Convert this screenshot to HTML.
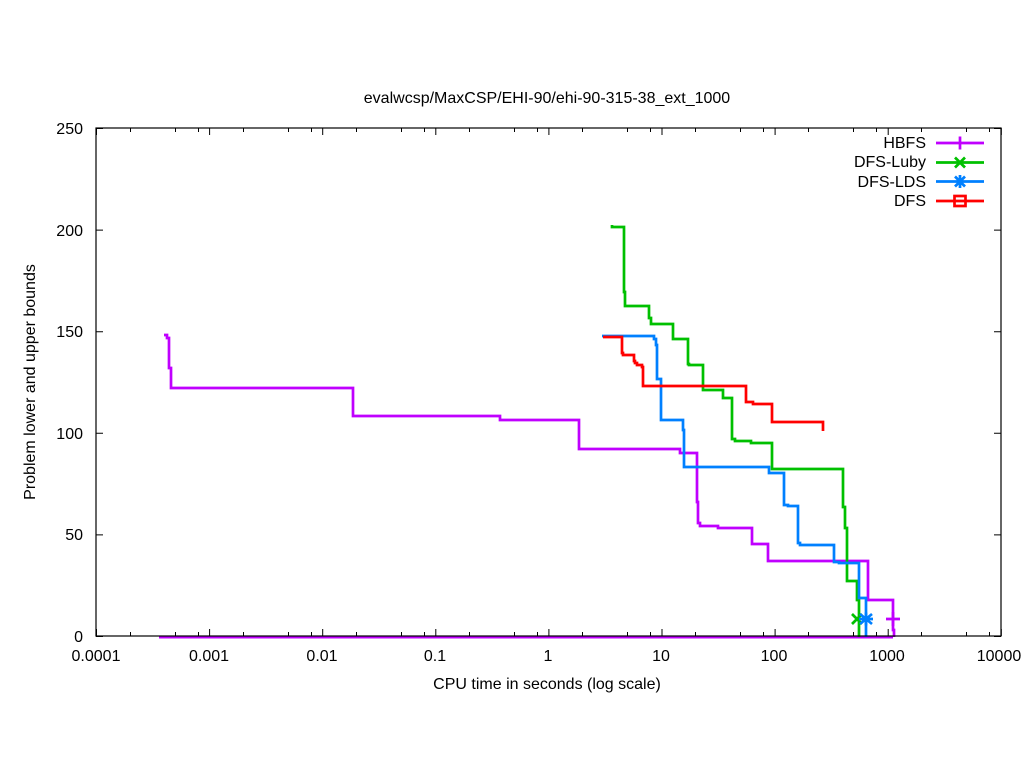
<!DOCTYPE html>
<html><head><meta charset="utf-8"><style>html,body{margin:0;padding:0;background:#fff}svg{display:block}text{font-family:"Liberation Sans",sans-serif;font-size:16px;fill:#000}</style></head><body>
<svg width="1024" height="768" viewBox="0 0 1024 768" xmlns="http://www.w3.org/2000/svg">
<rect width="1024" height="768" fill="#fff"/>
<text x="547" y="103" text-anchor="middle">evalwcsp/MaxCSP/EHI-90/ehi-90-315-38_ext_1000</text>
<g stroke="#000" stroke-width="1" fill="none">
<path d="M96,636.5H103M96,534.9H103M96,433.3H103M96,331.7H103M96,230.1H103M96,128.5H103M1001,636.5H994M1001,534.9H994M1001,433.3H994M1001,331.7H994M1001,230.1H994M1001,128.5H994"/>
<path d="M96.5,636V629M96.5,128V135M209.6,636V629M209.6,128V135M322.7,636V629M322.7,128V135M435.8,636V629M435.8,128V135M548.9,636V629M548.9,128V135M662,636V629M662,128V135M775.1,636V629M775.1,128V135M888.2,636V629M888.2,128V135M1001.3,636V629M1001.3,128V135"/>
<path d="M130.5,636V632M130.5,128V132M175.5,636V632M175.5,128V132M198.5,636V632M198.5,128V132M243.5,636V632M243.5,128V132M288.5,636V632M288.5,128V132M311.5,636V632M311.5,128V132M356.5,636V632M356.5,128V132M401.5,636V632M401.5,128V132M424.5,636V632M424.5,128V132M469.5,636V632M469.5,128V132M514.5,636V632M514.5,128V132M537.5,636V632M537.5,128V132M582.5,636V632M582.5,128V132M627.5,636V632M627.5,128V132M650.5,636V632M650.5,128V132M695.5,636V632M695.5,128V132M740.5,636V632M740.5,128V132M763.5,636V632M763.5,128V132M808.5,636V632M808.5,128V132M853.5,636V632M853.5,128V132M876.5,636V632M876.5,128V132M921.5,636V632M921.5,128V132M966.5,636V632M966.5,128V132M989.5,636V632M989.5,128V132"/>
</g>
<g text-anchor="end">
<text x="83" y="642">0</text>
<text x="83" y="540">50</text>
<text x="83" y="439">100</text>
<text x="83" y="337">150</text>
<text x="83" y="236">200</text>
<text x="83" y="134">250</text>
</g>
<g text-anchor="middle">
<text x="96" y="661">0.0001</text>
<text x="209" y="661">0.001</text>
<text x="322" y="661">0.01</text>
<text x="435" y="661">0.1</text>
<text x="548" y="661">1</text>
<text x="661" y="661">10</text>
<text x="774" y="661">100</text>
<text x="887" y="661">1000</text>
<text x="999" y="661">10000</text>
<text x="547" y="689">CPU time in seconds (log scale)</text>
<text transform="translate(35,382) rotate(-90)">Problem lower and upper bounds</text>
</g>
<g text-anchor="end">
<text x="926" y="148">HBFS</text>
<text x="926" y="167">DFS-Luby</text>
<text x="926" y="187">DFS-LDS</text>
<text x="926" y="206">DFS</text>
</g>
<g fill="none" stroke-width="2.7" stroke-linejoin="miter" stroke-linecap="butt">
<path stroke="#c000ff" stroke-width="2" d="M159,637.5H893"/>
<path stroke="#c000ff" d="M164,335H167V338H169V368H171V388H353V416H500V420H579V449H680V453H697V502H698V523H700V526H718V528H752V544H768V561H868V600H893V630H894V637"/>
<path stroke="#c000ff" d="M936,143H984M960,136.5V149.5M886,619H900M893,612V626"/>
<path stroke="#00c000" d="M612,225V227H624V292H625V306H649V318H651V324H673V339H688V364H689V365H703V390H723V398H732V439H735V441H751V443H772V469H843V507H845V528H847V581H857V600H859V637"/>
<path stroke="#00c000" d="M936,162.5H984M955,157.5L965,167.5M955,167.5L965,157.5M852,614L862,624M852,624L862,614"/>
<path stroke="#0080ff" d="M602,336H654V339H656V345H657V379H661V420H683V430H684V467H769V473H784V505H788V506H798V543H800V545H834V562H839V563H859V598H866V637"/>
<path stroke="#0080ff" d="M936,181.5H984M955,176.5L965,186.5M955,186.5L965,176.5M960,175V188M860,614L872,624M860,624L872,614M866,612.5V625.5M859,619H873"/>
<path stroke="#ff0000" d="M603,337H622V353H623V355H634V361H635V363H637V365H642V367H643V386H746V402H753V404H772V422H823V431"/>
<path stroke="#ff0000" d="M936,201H984"/>
<rect x="954.5" y="196" width="11" height="10" stroke="#ff0000"/>
</g>
<rect x="96" y="128" width="905" height="508" fill="none" stroke="#000" stroke-width="1.2"/>
</svg>
</body></html>
